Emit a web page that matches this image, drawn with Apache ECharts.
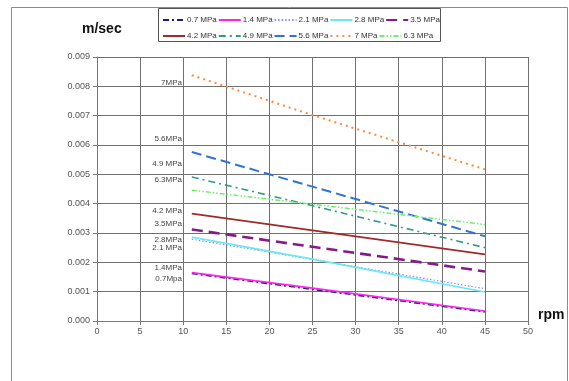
<!DOCTYPE html>
<html><head><meta charset="utf-8">
<script src="https://cdn.jsdelivr.net/npm/echarts@6/dist/echarts.min.js"></script>
<style>html,body{margin:0;padding:0;background:#fff}#c{width:569px;height:381px}</style>
</head><body><div id="c"></div>
<script>
// rpm points
const rpm = [11, 25, 45];
// velocity (m/sec) per pressure
const names = ['0.7 MPa','1.4 MPa','2.1 MPa','2.8 MPa','3.5 MPa','4.2 MPa','4.9 MPa','5.6 MPa','7 MPa','6.3 MPa'];
const v07 = [0.00162, 0.00108, 0.00031];
const v14 = [0.00165, 0.00112, 0.00034];
const v21 = [0.00279, 0.00210, 0.00110];
const v28 = [0.00286, 0.00211, 0.00099];
const v35 = [0.00312, 0.00253, 0.00169];
const v42 = [0.00366, 0.00309, 0.00227];
const v49 = [0.00491, 0.00393, 0.00250];
const v56 = [0.00576, 0.00458, 0.00289];
const v70 = [0.00838, 0.00702, 0.00517];
const v63 = [0.00446, 0.00398, 0.00329];
const values = [v07, v14, v21, v28, v35, v42, v49, v56, v70, v63];
const yTicks = ['0.000','0.001','0.002','0.003','0.004','0.005','0.006','0.007','0.008','0.009'];
const annotations = ['7MPa','5.6MPa','4.9 MPa','6.3MPa','4.2 MPa','3.5MPa','2.8MPa','2.1 MPa','1.4MPa','0.7Mpa'];

const styles = [
  {color:'#1c1c86', width:1.6, type:[6,3,2,3]},
  {color:'#ff22ee', width:1.6, type:'solid'},
  {color:'#8c8cf0', width:1.2, type:[1.5,2]},
  {color:'#6be8f2', width:1.6, type:'solid'},
  {color:'#861a86', width:2.6, type:[11,6]},
  {color:'#9e2a2a', width:1.6, type:'solid'},
  {color:'#2e9a90', width:1.6, type:[7,4,2,4]},
  {color:'#2f74d4', width:2, type:[10,5]},
  {color:'#ff8a3a', width:2, type:[2,4]},
  {color:'#6cf06c', width:1.5, type:[5,2,1.5,2,1.5,2]}
];
const annY = [82.7, 139, 164, 180, 210.7, 223.3, 240, 247.3, 267.3, 279];

const series = names.map((n,i)=>({
  name:n, type:'line', symbol:'none', showSymbol:false,
  data: rpm.map((x,j)=>[x, values[i][j]]),
  lineStyle:{color:styles[i].color, width:styles[i].width, type:styles[i].type},
  itemStyle:{color:styles[i].color},
  emphasis:{disabled:true}, animation:false
}));

const legendCommon = {
  orient:'horizontal', itemWidth:22, itemHeight:8, itemGap:1,
  itemStyle:{opacity:0},
  textStyle:{fontSize:8, fontFamily:'Liberation Sans', color:'#333', width:28, overflow:'none', padding:[0,0,0,-3]},
  selectedMode:false
};

const graphics = [
  {type:'rect', shape:{x:11.5, y:7.5, width:556, height:380}, style:{fill:'none', stroke:'#8a8a8a', lineWidth:1}, silent:true},
  {type:'rect', shape:{x:158.5, y:8.5, width:282, height:33}, style:{fill:'#fff', stroke:'#555', lineWidth:1}, silent:true, z:-1},
  {type:'text', left:82, top:22, style:{text:'m/sec', font:'bold 14px Liberation Sans', fill:'#111'}},
  {type:'text', left:538, top:308, style:{text:'rpm', font:'bold 14px Liberation Sans', fill:'#111'}}
];
annotations.forEach((t,i)=>{
  graphics.push({type:'text', x:182, y:annY[i], style:{text:t, font:'8px Liberation Sans', fill:'#444', align:'right', verticalAlign:'middle'}});
});

const chart = echarts.init(document.getElementById('c'), null, {renderer:'canvas'});
chart.setOption({
  animation:false,
  backgroundColor:'#fff',
  grid:{left:97, right:41, top:57, bottom:60, containLabel:false},
  legend:[
    Object.assign({}, legendCommon, {left:157, top:11, data:names.slice(0,5)}),
    Object.assign({}, legendCommon, {left:157, top:27, data:names.slice(5)})
  ],
  xAxis:{type:'value', min:0, max:50, interval:5,
    axisLine:{lineStyle:{color:'#777'}}, axisTick:{show:true, length:4, lineStyle:{color:'#777'}},
    axisLabel:{fontSize:9, fontFamily:'Liberation Sans', color:'#555', margin:6},
    splitLine:{show:true, lineStyle:{color:'#707070', width:1}}},
  yAxis:{type:'value', min:0, max:0.009, interval:0.001,
    axisLine:{show:true, lineStyle:{color:'#777'}}, axisTick:{show:true, length:4, lineStyle:{color:'#777'}},
    axisLabel:{fontSize:9, fontFamily:'Liberation Sans', color:'#555', margin:7,
      formatter:(v)=>yTicks[Math.round(v/0.001)]},
    splitLine:{show:true, lineStyle:{color:'#707070', width:1}}},
  graphic:graphics,
  series:series
});
</script></body></html>
